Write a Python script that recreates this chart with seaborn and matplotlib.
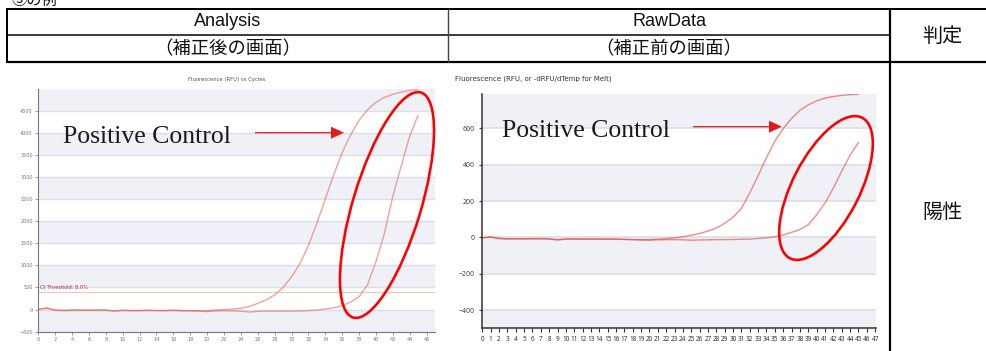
import matplotlib
matplotlib.use("Agg")
import matplotlib.pyplot as plt
import pandas as pd
import seaborn as sns
from matplotlib.patches import Ellipse, FancyArrow

# ---- data -------------------------------------------------------------
cycles = list(range(46))

# baseline-corrected fluorescence (Analysis view)
analysis_early = [0, 30, -20, -15, -5, -10, -10, -5, -10, -30,
                  -15, -20, -20, -15, -20, -20, -15, -20, -25, -25,
                  -30, -10, 0, 10, 30, 70, 140, 220, 330, 500,
                  740, 1040, 1450, 1950, 2500, 3050, 3550, 3950, 4280, 4520,
                  4690, 4800, 4870, 4920, 4960, 4985]
analysis_late = [10, 40, -10, -25, -20, -15, -20, -20, -15, -35,
                 -20, -25, -25, -20, -25, -25, -20, -30, -30, -35,
                 -45, -30, -25, -30, -35, -55, -40, -35, -35, -35,
                 -35, -30, -25, -10, 10, 40, 90, 170, 290, 560,
                 1080, 1720, 2560, 3250, 3920, 4400]

# raw fluorescence (RawData view)
raw_early = [-3, 2, -6, -7, -7, -7, -6, -6, -7, -12,
             -8, -8, -8, -8, -8, -8, -9, -10, -11, -12,
             -12, -9, -6, -3, 4, 12, 22, 35, 52, 78,
             112, 160, 245, 340, 440, 530, 600, 655, 700, 730,
             752, 767, 776, 782, 786, 788]
raw_late = [-2, 3, -5, -8, -8, -8, -8, -8, -9, -14,
            -9, -9, -10, -9, -10, -10, -10, -11, -13, -14,
            -15, -13, -12, -12, -13, -15, -14, -13, -12, -12,
            -11, -10, -9, -6, -2, 4, 14, 28, 44, 70,
            125, 190, 272, 365, 453, 523]

analysis_yticks = list(range(-500, 5000, 500))
analysis_xticks = list(range(0, 47, 2))
raw_yticks = [-400, -200, 0, 200, 400, 600]
raw_xticks = list(range(0, 48))
ct_threshold = 400
ct_label = "Ct Threshold: 8.0%"

header_top = ["Analysis", "RawData"]
header_sub = ["（補正後の画面）", "（補正前の画面）"]
judge_title = "判定"
judge_value = "陽性"
caption = "③の例"
annotation = "Positive Control"

# ---- style ------------------------------------------------------------
sns.set_theme(style="white")
plt.rcParams["font.family"] = ["DejaVu Sans", "Noto Sans CJK JP"]

BAND = "#eff1f6"
GRID = "#d9dee8"
W, H = 987, 351

fig = plt.figure(figsize=(W / 100, H / 100), dpi=100)


def px_axes(x0, y0, x1, y1):
    return fig.add_axes([x0 / W, 1 - y1 / H, (x1 - x0) / W, (y1 - y0) / H])


def long_frame(early, late):
    return pd.DataFrame({
        "cycle": cycles * 2,
        "value": early + late,
        "well": ["early"] * len(cycles) + ["late"] * len(cycles),
    })


# ---- Analysis chart ---------------------------------------------------
ax1 = px_axes(38.3, 89, 435, 331.7)
ax1.set_xlim(0, 47)
ax1.set_ylim(-500, 4990)
for lo in range(-500, 5000, 1000):
    ax1.axhspan(lo, lo + 500, color=BAND, lw=0, zorder=0)
for y in analysis_yticks:
    ax1.axhline(y, color=GRID, lw=1.0, zorder=0.5)
ax1.axhline(ct_threshold, color="#f2c9a6", lw=0.8, zorder=0.6)
ax1.text(0.15, 490, ct_label, fontsize=3.6, color="#c2185b",
         va="center", ha="left", zorder=3)
sns.lineplot(data=long_frame(analysis_early, analysis_late), x="cycle",
             y="value", hue="well", palette=["#e8584f", "#e8584f"],
             estimator=None, errorbar=None, legend=False, ax=ax1,
             lw=1.0, alpha=0.55, zorder=2)
ax1.set_xticks(analysis_xticks)
ax1.set_yticks(analysis_yticks)
ax1.tick_params(labelsize=3.5, colors="#777", length=2, width=0.5, pad=2,
                left=True, bottom=True)
ax1.set_xlabel("")
ax1.set_ylabel("")
for s in ("top", "right"):
    ax1.spines[s].set_visible(False)
for s in ("left", "bottom"):
    ax1.spines[s].set_color("#777")
    ax1.spines[s].set_linewidth(0.8)

# ---- RawData chart ----------------------------------------------------
ax2 = px_axes(482.3, 94.3, 876, 328.3)
ax2.set_xlim(0, 47.1)
ax2.set_ylim(-500, 788)
for lo in (-500, -200, 200, 600):
    hi = lo + (100 if lo == -500 else 200)
    ax2.axhspan(lo, hi, color=BAND, lw=0, zorder=0)
for y in raw_yticks:
    ax2.axhline(y, color=GRID, lw=1.2, zorder=0.5)
sns.lineplot(data=long_frame(raw_early, raw_late), x="cycle", y="value",
             hue="well", palette=["#e8483f", "#e8483f"], estimator=None,
             errorbar=None, legend=False, ax=ax2, lw=1.0, alpha=0.62,
             zorder=2)
ax2.set_xticks(raw_xticks)
ax2.set_yticks(raw_yticks)
ax2.tick_params(axis="x", labelsize=4.6, colors="#333", length=3.2,
                width=0.8, pad=2.5, bottom=True)
ax2.tick_params(axis="y", labelsize=5, colors="#444", length=2.5,
                width=0.8, pad=3, left=True)
for lab in ax2.get_xticklabels():
    lab.set_family("Noto Sans")
for lab in ax2.get_yticklabels():
    lab.set_family("Noto Sans")
ax2.set_xlabel("")
ax2.set_ylabel("")
for s in ("top", "right"):
    ax2.spines[s].set_visible(False)
for s in ("left", "bottom"):
    ax2.spines[s].set_color("#333")
    ax2.spines[s].set_linewidth(1.1)

# ---- table frame, headings and callouts (pixel overlay) ---------------
ov = fig.add_axes([0, 0, 1, 1])
ov.set_xlim(0, W)
ov.set_ylim(H, 0)
ov.axis("off")
ov.patch.set_visible(False)

PT = 0.72  # points per pixel
ov.plot([7, W], [8.7, 8.7], color="black", lw=2 * PT)
ov.plot([7, 890], [35, 35], color="black", lw=1.5 * PT)
ov.plot([7, W], [62.3, 62.3], color="black", lw=2.2 * PT)
ov.plot([7.3, 7.3], [8.7, 62.3], color="black", lw=2 * PT)
ov.plot([448, 448], [8.7, 62.3], color="#444", lw=1.4 * PT)
ov.plot([890, 890], [8.7, H], color="black", lw=2.2 * PT)

latin = ["Liberation Sans", "Noto Sans CJK JP"]
cjk = ["Noto Sans CJK JP", "DejaVu Sans"]
for cx, top, sub in zip([228, 669], header_top, header_sub):
    ov.text(cx, 22, top, ha="center", va="center", fontsize=13,
            family=latin, color="#111")
    ov.text(cx, 49, sub, ha="center", va="center", fontsize=13.2,
            family=cjk, color="#111")
ov.text(942, 36, judge_title, ha="center", va="center", fontsize=14.5,
        family=cjk, color="#111")
ov.text(942, 212, judge_value, ha="center", va="center", fontsize=14.5,
        family=cjk, color="#111")
ov.text(11, 4.5, caption, ha="left", va="baseline", fontsize=11,
        family=cjk, color="#111")

ov.text(227, 80, "Fluorescence (RFU) vs Cycles", ha="center", va="center",
        fontsize=3.8, color="#555")
ov.text(455, 79, "Fluorescence (RFU, or -dRFU/dTemp for Melt)", ha="left",
        va="center", fontsize=5, color="#333")

for x0, x1, y, tx in ((255, 344, 132.7, 63), (693, 782, 126.7, 502)):
    ov.add_patch(FancyArrow(x0, y, x1 - x0, 0, width=1.3, head_width=12,
                            head_length=13, length_includes_head=True,
                            color="#e31b1b", lw=0))
    ov.text(tx, y + 4, annotation, ha="left", va="center", fontsize=18.5,
            family=["Liberation Serif", "DejaVu Serif"], color="#1a1a1a")

ov.add_patch(Ellipse((387, 205), 235, 68, angle=-73.2, fill=False,
                     ec="#ff0000", lw=2.6 * PT))
ov.add_patch(Ellipse((826, 188), 158, 67, angle=-62.8, fill=False,
                     ec="#ff0000", lw=2.6 * PT))

fig.savefig("out.png", dpi=100)
